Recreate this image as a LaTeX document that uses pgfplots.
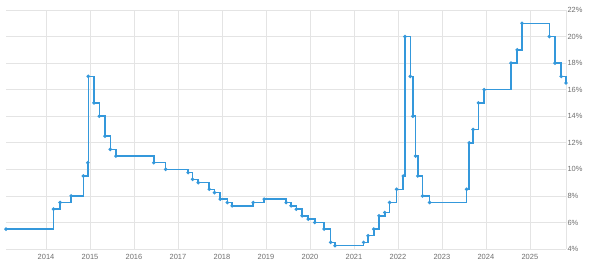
\documentclass[border=0pt]{standalone}
\usepackage{fontspec}
\setmainfont{Liberation Sans}
\usepackage{pgfplots}
\pgfplotsset{compat=1.18}
\definecolor{lineblue}{RGB}{52,152,219}
\definecolor{gridgray}{RGB}{228,228,228}
\definecolor{labgray}{RGB}{110,110,110}
\begin{document}
\begin{tikzpicture}[x=1bp,y=1bp]
\useasboundingbox (-6bp,-27bp) rectangle (592bp,249bp);
\begin{axis}[
  at={(0,0)}, anchor=origin,
  scale only axis, width=560bp, height=239bp,
  xmin=2013.09, xmax=2025.82, ymin=4, ymax=22,
  axis y line*=right, axis x line*=bottom,
  y axis line style={gridgray, line width=0.6bp},
  x axis line style={draw=none},
  xtick={2014,...,2025}, ytick={4,6,...,22},
  xmajorgrids, ymajorgrids,
  grid style={gridgray, line width=0.6bp},
  y tick style={gridgray, line width=0.6bp},
  x tick style={draw=none},
  major tick length=6bp,
  y tick label style={font=\fontsize{7.5}{8}\selectfont, text=labgray, xshift=-2bp},
  x tick label style={font=\fontsize{7.5}{8}\selectfont, text=labgray, yshift=-2bp},
  yticklabel={\pgfmathprintnumber{\tick}\%},
  xticklabel={\pgfmathprintnumber[1000 sep={}]{\tick}},
  /pgf/number format/assume math mode=true,
  clip=false,
]
\addplot[const plot, draw=lineblue, line width=1.5bp, mark=*, mark size=0.9bp, mark options={fill=lineblue, draw=lineblue}] coordinates {
(2013.09,5.5) (2014.17,7.0) (2014.32,7.5) (2014.57,8.0) (2014.85,9.5) (2014.95,10.5) (2014.96,17.0)
(2015.09,15.0) (2015.21,14.0) (2015.34,12.5) (2015.46,11.5) (2015.59,11.0)
(2016.45,10.5) (2016.72,10.0)
(2017.23,9.75) (2017.33,9.25) (2017.46,9.0) (2017.71,8.5) (2017.83,8.25) (2017.96,7.75)
(2018.12,7.5) (2018.23,7.25) (2018.71,7.5) (2018.96,7.75)
(2019.46,7.5) (2019.57,7.25) (2019.69,7.0) (2019.82,6.5) (2019.96,6.25)
(2020.11,6.0) (2020.32,5.5) (2020.47,4.5) (2020.57,4.25)
(2021.22,4.5) (2021.32,5.0) (2021.45,5.5) (2021.57,6.5) (2021.70,6.75) (2021.81,7.5) (2021.97,8.5)
(2022.12,9.5) (2022.16,20.0) (2022.28,17.0) (2022.34,14.0) (2022.40,11.0) (2022.45,9.5) (2022.56,8.0) (2022.72,7.5)
(2023.56,8.5) (2023.62,12.0) (2023.71,13.0) (2023.83,15.0) (2023.96,16.0)
(2024.57,18.0) (2024.71,19.0) (2024.82,21.0)
(2025.44,20.0) (2025.57,18.0) (2025.71,17.0) (2025.82,16.5)
};
\end{axis}
\end{tikzpicture}
\end{document}
